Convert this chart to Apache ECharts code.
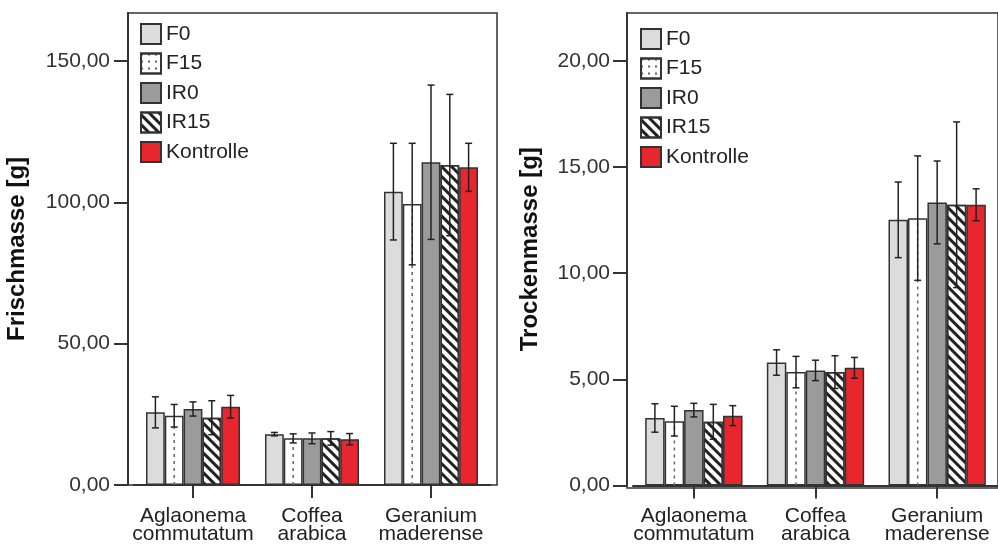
<!DOCTYPE html>
<html>
<head>
<meta charset="utf-8">
<script src="https://cdn.jsdelivr.net/npm/echarts@6/dist/echarts.min.js"></script>
<style>
html,body{margin:0;padding:0;background:#fff;}
#c{width:998px;height:545px;}
</style>
</head>
<body>
<div id="c"></div>
<script>
// ---- data ----
var categories = ['Aglaonema\ncommutatum', 'Coffea\narabica', 'Geranium\nmaderense'];
var seriesNames = ['F0', 'F15', 'IR0', 'IR15', 'Kontrolle'];

// Frischmasse [g] (means)
var frischF0 = [25.7, 18.0, 103.8];
var frischF15 = [24.5, 16.5, 99.4];
var frischIR0 = [26.9, 16.5, 114.2];
var frischIR15 = [23.8, 16.5, 113.2];
var frischKontrolle = [27.7, 16.2, 112.4];
// error bar half-lengths
var frischErrF0 = [5.5, 0.6, 17.1];
var frischErrF15 = [4.0, 1.6, 21.5];
var frischErrIR0 = [2.5, 1.9, 27.3];
var frischErrIR15 = [6.0, 2.4, 25.0];
var frischErrKontrolle = [4.0, 2.0, 8.5];

// Trockenmasse [g] (means)
var trockenF0 = [3.18, 5.79, 12.51];
var trockenF15 = [3.03, 5.34, 12.59];
var trockenIR0 = [3.55, 5.42, 13.33];
var trockenIR15 = [3.00, 5.34, 13.22];
var trockenKontrolle = [3.29, 5.54, 13.22];
var trockenErrF0 = [0.67, 0.60, 1.78];
var trockenErrF15 = [0.70, 0.74, 2.93];
var trockenErrIR0 = [0.32, 0.48, 1.95];
var trockenErrIR15 = [0.82, 0.77, 3.90];
var trockenErrKontrolle = [0.47, 0.49, 0.75];

var frischTicks = [0, 50, 100, 150];
var trockenTicks = [0, 5, 10, 15, 20];
var frischMax = 167;
var trockenMax = 22.25;

// ---- build ----
var FONT = "'Liberation Sans', Arial, sans-serif";
var frischVals = [frischF0, frischF15, frischIR0, frischIR15, frischKontrolle];
var frischErrs = [frischErrF0, frischErrF15, frischErrIR0, frischErrIR15, frischErrKontrolle];
var trockenVals = [trockenF0, trockenF15, trockenIR0, trockenIR15, trockenKontrolle];
var trockenErrs = [trockenErrF0, trockenErrF15, trockenErrIR0, trockenErrIR15, trockenErrKontrolle];

var hatch = {symbol: 'rect', symbolSize: 1, color: '#222', dashArrayX: [1, 0], dashArrayY: [2.2, 4], rotation: Math.PI / 4};
var dots = {symbol: 'rect', symbolSize: 0.9, color: '#555', dashArrayX: [2, 5], dashArrayY: [2, 5]};
var styles = [
  {color: '#dcdcdc'},
  {color: '#ffffff'},
  {color: '#9b9b9b'},
  {color: '#ffffff', decal: hatch},
  {color: '#e8262d'}
];

function fmt(v) { return v.toFixed(2).replace('.', ','); }

function makeErr(vals, errs, gapFrac, xi, yi) {
  var data = [];
  for (var s = 0; s < vals.length; s++) {
    for (var c = 0; c < categories.length; c++) {
      data.push([c, s, vals[s][c], errs[s][c]]);
    }
  }
  return {
    type: 'custom', xAxisIndex: xi, yAxisIndex: yi, z: 5, silent: true,
    encode: {x: 0, y: 2},
    data: data,
    renderItem: function (params, api) {
      var c = api.value(0), s = api.value(1), v = api.value(2), e = api.value(3);
      var band = api.size([1, 0])[0];
      var groupW = band * (1 - gapFrac);
      var bw = groupW / 5;
      var cx = api.coord([c, 0])[0] - groupW / 2 + (s + 0.5) * bw;
      var y0 = api.coord([c, 0])[1];
      var yv = api.coord([c, v])[1];
      var yt = api.coord([c, v + e])[1];
      var yb = api.coord([c, v - e])[1];
      var cap = 3.5;
      var st = {stroke: '#222', lineWidth: 1.5};
      var children = [];
      if (s === 1) {
        children.push({type: 'line', shape: {x1: cx, y1: y0, x2: cx, y2: yv}, style: {stroke: '#666', lineWidth: 1.5, lineDash: [3, 4]}});
      }
      children.push({type: 'line', shape: {x1: cx, y1: yt, x2: cx, y2: yb}, style: st});
      children.push({type: 'line', shape: {x1: cx - cap, y1: yt, x2: cx + cap, y2: yt}, style: st});
      children.push({type: 'line', shape: {x1: cx - cap, y1: yb, x2: cx + cap, y2: yb}, style: st});
      return {type: 'group', children: children};
    }
  };
}

function makeBars(vals, gap, xi, yi) {
  return vals.map(function (arr, s) {
    return {
      type: 'bar', name: seriesNames[s], xAxisIndex: xi, yAxisIndex: yi,
      data: arr, barGap: '0%', barCategoryGap: gap,
      itemStyle: Object.assign({borderColor: '#333', borderWidth: 1.5}, styles[s]),
      emphasis: {disabled: true}
    };
  });
}

var axisLineStyle = {color: '#333', width: 2};

function legendCfg(left, top) {
  return {
    orient: 'vertical', left: left, top: top, itemWidth: 20, itemHeight: 20, itemGap: 7.5,
    selectedMode: false, icon: 'rect', padding: 0,
    textStyle: {fontFamily: FONT, fontSize: 21, lineHeight: 20, color: '#222'},
    data: seriesNames.map(function (n, i) {
      var d = {name: n};
      if (i === 1) d.itemStyle = {decal: dots};
      return d;
    })
  };
}

function xCat(gi) {
  return {gridIndex: gi, type: 'category', data: categories,
    axisLine: {lineStyle: axisLineStyle},
    axisTick: {show: true, interval: 0, alignWithLabel: true, length: 13, lineStyle: axisLineStyle},
    axisLabel: {interval: 0, fontFamily: FONT, fontSize: 21, lineHeight: 18, color: '#222', margin: 22}};
}

var option = {
  animation: false,
  backgroundColor: '#fff',
  legend: [legendCfg(140, 23), legendCfg(640, 28)],
  grid: [
    {left: 128, top: 13, width: 369, height: 472, show: true, borderColor: '#333', borderWidth: 1.5},
    {left: 133.5, top: 13, width: 357, height: 472},
    {left: 627, top: 13, width: 420, height: 475, show: true, borderColor: '#333', borderWidth: 1.5},
    {left: 633, top: 13, width: 367, height: 475}
  ],
  xAxis: [
    {gridIndex: 0, type: 'category', show: false, data: categories},
    xCat(1),
    {gridIndex: 2, type: 'category', show: false, data: categories},
    xCat(3)
  ],
  yAxis: [
    {gridIndex: 0, type: 'value', show: false, min: 0, max: frischMax},
    {gridIndex: 1, type: 'value', min: 0, max: frischMax, offset: 5.5,
      name: 'Frischmasse [g]', nameLocation: 'middle', nameRotate: 90, nameGap: 99,
      nameTextStyle: {fontFamily: FONT, fontSize: 24, fontWeight: 'bold', color: '#111'},
      axisLine: {show: true, lineStyle: axisLineStyle},
      axisTick: {show: true, length: 14, lineStyle: axisLineStyle, customValues: frischTicks},
      axisLabel: {fontFamily: FONT, fontSize: 21, color: '#333', margin: 18, customValues: frischTicks, formatter: fmt},
      splitLine: {show: false}},
    {gridIndex: 2, type: 'value', show: false, min: 0, max: trockenMax},
    {gridIndex: 3, type: 'value', min: 0, max: trockenMax, offset: 6,
      name: 'Trockenmasse [g]', nameLocation: 'middle', nameRotate: 90, nameGap: 85,
      nameTextStyle: {fontFamily: FONT, fontSize: 24, fontWeight: 'bold', color: '#111'},
      axisLine: {show: true, lineStyle: axisLineStyle},
      axisTick: {show: true, length: 14, lineStyle: axisLineStyle, customValues: trockenTicks},
      axisLabel: {fontFamily: FONT, fontSize: 21, color: '#333', margin: 17, customValues: trockenTicks, formatter: fmt},
      splitLine: {show: false}}
  ],
  series: [].concat(
    makeBars(frischVals, '21%', 1, 1),
    [makeErr(frischVals, frischErrs, 0.21, 1, 1)],
    makeBars(trockenVals, '20%', 3, 3),
    [makeErr(trockenVals, trockenErrs, 0.20, 3, 3)]
  )
};

var chart = echarts.init(document.getElementById('c'), null, {renderer: 'canvas'});
chart.setOption(option);
</script>
</body>
</html>
